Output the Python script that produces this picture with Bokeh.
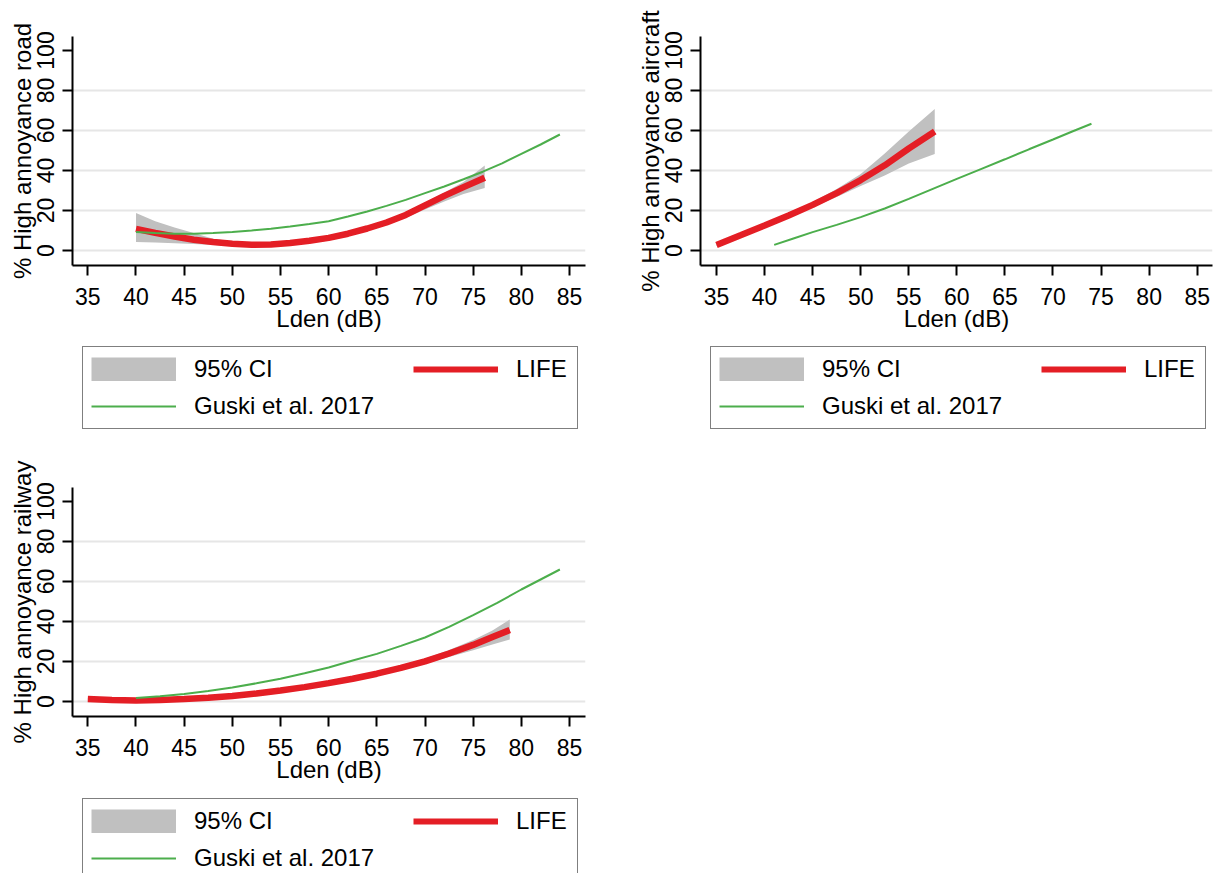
from bokeh.plotting import figure
from bokeh.models import Range1d, FixedTicker, Legend, LegendItem
from bokeh.layouts import column, row
from bokeh.embed import file_html
from bokeh.resources import INLINE

# ---------------- data ----------------
x_ticks = [35, 40, 45, 50, 55, 60, 65, 70, 75, 80, 85]
y_ticks = [0, 20, 40, 60, 80, 100]
grid_ticks = [0, 20, 40, 60, 80]

# Road
road_life_x = [40, 42, 44, 46, 48, 50, 52, 54, 56, 58, 60, 62, 64, 66, 68, 70, 72, 74, 76.2]
road_life = [10.8, 8.8, 7.0, 5.4, 4.3, 3.4, 2.9, 3.0, 3.7, 4.9, 6.3, 8.4, 11.0, 14.0, 17.8, 22.6, 27.3, 31.7, 36.4]
road_ci_lo = [4.2, 4.0, 3.6, 3.2, 2.7, 2.4, 2.1, 2.2, 2.8, 3.9, 5.4, 7.3, 9.7, 12.7, 16.3, 20.5, 24.5, 28.2, 31.3]
road_ci_hi = [18.8, 14.6, 11.5, 8.8, 5.9, 4.6, 4.0, 3.9, 4.6, 5.9, 7.2, 9.4, 12.2, 15.3, 19.2, 24.0, 29.0, 34.3, 42.5]
road_guski_x = [40, 42, 44, 46, 48, 50, 52, 54, 56, 58, 60, 62, 64, 66, 68, 70, 72, 74, 76, 78, 80, 82, 84]
road_guski = [9.2, 8.7, 8.4, 8.4, 8.7, 9.3, 10.0, 10.9, 12.0, 13.2, 14.6, 17.0, 19.5, 22.3, 25.3, 28.7, 32.0, 35.6, 39.4, 43.6, 48.3, 53.0, 58.0]

# Aircraft
air_life_x = [35, 37.5, 40, 42.5, 45, 47.5, 50, 52.5, 55, 57.7]
air_life = [2.8, 7.6, 12.5, 17.5, 22.8, 28.7, 35.2, 42.6, 51.0, 59.5]
air_ci_lo = [2.2, 7.0, 11.8, 16.6, 21.5, 26.8, 32.3, 37.5, 43.5, 48.3]
air_ci_hi = [3.4, 8.3, 13.3, 18.5, 24.2, 30.8, 38.3, 48.5, 59.5, 70.8]
air_guski_x = [41, 43, 45, 47.5, 50, 52.5, 55, 57.5, 60, 62.5, 65, 67.5, 70, 72, 74]
air_guski = [2.8, 6.0, 9.2, 12.8, 16.7, 21.0, 25.8, 30.8, 35.8, 40.7, 45.6, 50.6, 55.5, 59.5, 63.4]

# Railway
rail_life_x = [35, 37.5, 40, 42.5, 45, 47.5, 50, 52.5, 55, 57.5, 60, 62.5, 65, 67.5, 70, 72.5, 75, 77, 78.8]
rail_life = [1.2, 0.7, 0.5, 0.7, 1.2, 1.9, 2.8, 4.0, 5.5, 7.2, 9.2, 11.4, 13.9, 16.8, 20.1, 24.0, 28.3, 32.2, 35.7]
rail_ci_x = [35, 40, 45, 50, 55, 60, 65, 70, 72.5, 75, 77, 78.8]
rail_ci_lo = [0.6, 0.2, 0.8, 2.3, 4.9, 8.5, 13.0, 18.8, 22.2, 25.6, 28.5, 31.0]
rail_ci_hi = [1.8, 0.9, 1.6, 3.3, 6.1, 9.9, 14.9, 21.5, 25.8, 30.8, 35.5, 41.0]
rail_guski_x = [40, 42.5, 45, 47.5, 50, 52.5, 55, 57.5, 60, 62.5, 65, 67.5, 70, 72.5, 75, 77.5, 80, 82, 84]
rail_guski = [1.7, 2.6, 3.8, 5.3, 7.0, 9.1, 11.4, 14.1, 17.0, 20.5, 23.8, 27.8, 32.0, 37.3, 43.2, 49.3, 56.0, 61.0, 66.0]

legend_labels = ["95% CI", "LIFE", "Guski et al. 2017"]
x_label = "Lden (dB)"

# ---------------- style ----------------
FONT = "Liberation Sans"
RED = "#e41e25"
GREEN = "#4cae4c"
GRAY = "#c0c0c0"
GRID = "#e6e6e6"

PLOT_H = 343          # height of the plot part of each panel
BORDER_L, BORDER_T, FRAME_H = 72, 36, 229

# legend geometry
PAD, SPACING, ITEM_H = 8, 9, 29
H_A = 2 * PAD + 2 * ITEM_H + SPACING
H_B = 2 * PAD + ITEM_H


def make_plot(ylabel, lx, ly, cx, clo, chi, gx, gy, width, frame_w, xr):
    p = figure(width=width, height=PLOT_H,
               x_range=Range1d(*xr), y_range=Range1d(-7.5, 107),
               output_backend="svg", toolbar_location=None,
               min_border_left=BORDER_L, min_border_right=width - BORDER_L - frame_w,
               min_border_top=BORDER_T, min_border_bottom=PLOT_H - BORDER_T - FRAME_H,
               outline_line_color=None, background_fill_color="white",
               border_fill_color="white")
    p.varea(x=cx, y1=clo, y2=chi, fill_color=GRAY, fill_alpha=1)
    p.line(lx, ly, line_color=RED, line_width=6.5)
    p.line(gx, gy, line_color=GREEN, line_width=2)

    p.xaxis.ticker = FixedTicker(ticks=x_ticks)
    p.yaxis.ticker = FixedTicker(ticks=y_ticks)
    p.ygrid.ticker = FixedTicker(ticks=grid_ticks)
    p.xgrid.visible = False
    p.ygrid.grid_line_color = GRID
    p.ygrid.grid_line_width = 2

    for ax in (p.xaxis[0], p.yaxis[0]):
        ax.axis_line_width = 2
        ax.axis_line_color = "black"
        ax.major_tick_line_width = 2
        ax.major_tick_line_color = "black"
        ax.major_tick_out = 10
        ax.major_tick_in = 0
        ax.minor_tick_out = 0
        ax.minor_tick_in = 0
        ax.major_label_text_font = FONT
        ax.major_label_text_font_size = "23px"
        ax.major_label_text_color = "black"
        ax.axis_label_text_font = FONT
        ax.axis_label_text_font_size = "24px"
        ax.axis_label_text_font_style = "normal"
        ax.axis_label_text_color = "black"
    p.xaxis.axis_label = x_label
    p.yaxis.axis_label = ylabel
    p.yaxis.major_label_orientation = "vertical"
    p.xaxis.major_label_standoff = 12
    p.xaxis.axis_label_standoff = -3
    p.yaxis.major_label_standoff = 9
    p.yaxis.axis_label_standoff = -2
    return p


def make_legend(width, height, box_top, lx, ly, cx, clo, chi, gx, gy):
    # legend strip below a panel; its frame is aligned with the panel's frame
    lg = figure(width=width, height=height, x_range=Range1d(0, 1), y_range=Range1d(0, 1),
                output_backend="svg", toolbar_location=None,
                x_axis_location=None, y_axis_location=None,
                min_border=0, outline_line_color=None,
                background_fill_color="white", border_fill_color="white")
    lg.xgrid.visible = False
    lg.ygrid.visible = False
    # one-point keys of the series (nothing visible) so the legend can draw their styles;
    # the CI key is a 24px gray stroke, which the legend draws as a full 85x24 swatch
    band = lg.line(cx[:1], clo[:1], line_color=GRAY, line_width=24, line_cap="butt")
    life = lg.line(lx[:1], ly[:1], line_color=RED, line_width=6)
    gus = lg.line(gx[:1], gy[:1], line_color=GREEN, line_width=2)
    common = dict(padding=PAD, spacing=SPACING, glyph_width=85, glyph_height=24,
                  label_standoff=18, label_height=24, margin=0,
                  label_text_font=FONT, label_text_font_size="24px",
                  label_text_color="black")
    legA = Legend(items=[LegendItem(label=legend_labels[0], renderers=[band]),
                         LegendItem(label=legend_labels[2], renderers=[gus])],
                  location=(10, height - box_top - H_A), label_width=375,
                  border_line_color="black", border_line_width=1.5,
                  background_fill_color="white", background_fill_alpha=1,
                  **common)
    legB = Legend(items=[LegendItem(label=legend_labels[1], renderers=[life])],
                  location=(333, height - box_top - H_B), label_width=20,
                  border_line_alpha=0, background_fill_alpha=0,
                  **common)
    lg.add_layout(legA)
    lg.add_layout(legB)
    return lg


W1, W2 = 628, 586
road = (road_life_x, road_life, road_life_x, road_ci_lo, road_ci_hi, road_guski_x, road_guski)
air = (air_life_x, air_life, air_life_x, air_ci_lo, air_ci_hi, air_guski_x, air_guski)
rail = (rail_life_x, rail_life, rail_ci_x, rail_ci_lo, rail_ci_hi, rail_guski_x, rail_guski)

p1 = make_plot("% High annoyance road", *road, W1, 513, (33.41, 86.66))
l1 = make_legend(W1, 451 - PLOT_H, 3, *road)
p2 = make_plot("% High annoyance aircraft", *air, W2, 512, (33.336, 86.59))
l2 = make_legend(W2, 451 - PLOT_H, 3, *air)
p3 = make_plot("% High annoyance railway", *rail, W1, 513, (33.41, 86.66))
l3 = make_legend(W1, 422 - PLOT_H, 4, *rail)

layout = column(row(column(p1, l1), column(p2, l2)), column(p3, l3))
open("out.html", "w").write(file_html(layout, INLINE))
